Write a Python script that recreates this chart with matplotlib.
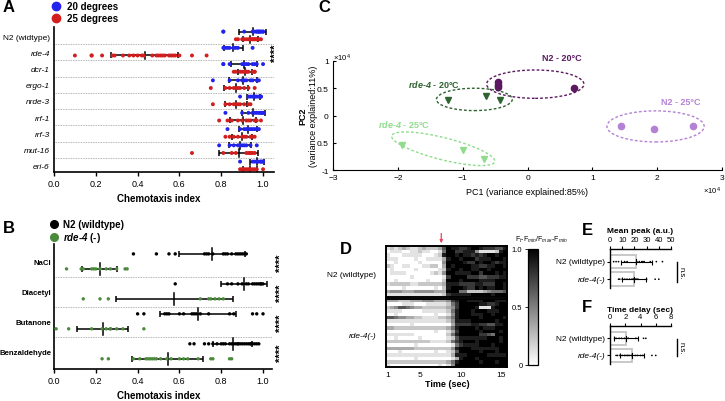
import numpy as np
import matplotlib
matplotlib.use('Agg')
import matplotlib.pyplot as plt
from matplotlib.patches import Ellipse
from matplotlib.lines import Line2D

plt.rcParams['font.family'] = ['Liberation Sans', 'DejaVu Sans']
plt.rcParams['mathtext.fontset'] = 'custom'
plt.rcParams['mathtext.rm'] = 'Liberation Sans'
plt.rcParams['mathtext.it'] = 'Liberation Sans:italic'
plt.rcParams['mathtext.bf'] = 'Liberation Sans:bold'
plt.rcParams['mathtext.bfit'] = 'Liberation Sans:italic:bold'

W, H = 725, 402

# ---------------- Panel A data: chemotaxis index at 20 / 25 degrees
strains = ['N2 (widtype)', 'rde-4', 'dcr-1', 'ergo-1', 'nrde-3', 'rrf-1', 'rrf-3', 'mut-16', 'eri-6']
ci_20 = [
    [0.81, 0.81, 0.91, 0.95, 0.96, 0.97, 0.97, 0.98, 0.98, 0.98, 0.99, 0.99, 1.0, 1.0],
    [0.81, 0.82, 0.83, 0.84, 0.86, 0.87, 0.88, 0.95],
    [0.81, 0.81, 0.84, 0.90, 0.91, 0.92, 0.93, 0.95, 0.96, 0.97, 1.0],
    [0.76, 0.84, 0.88, 0.90, 0.91, 0.92, 0.94, 0.95, 0.97, 0.98],
    [0.89, 0.93, 0.94, 0.95, 0.96, 0.96, 0.97, 0.98, 0.99, 0.99],
    [0.82, 0.90, 0.93, 0.95, 0.96, 0.97, 0.98, 0.99, 0.99, 1.0, 1.0],
    [0.83, 0.89, 0.91, 0.92, 0.93, 0.94, 0.95, 0.96, 0.97, 0.98],
    [0.79, 0.84, 0.86, 0.88, 0.89, 0.90, 0.91, 0.92, 0.94, 0.97],
    [0.89, 0.95, 0.96, 0.97, 0.98, 0.99, 0.99, 1.0, 1.0],
]
ci_25 = [
    [0.87, 0.88, 0.90, 0.91, 0.92, 0.93, 0.94, 0.94, 0.95, 0.95, 0.96, 0.96, 0.97, 0.97, 0.98, 0.99],
    [0.10, 0.18, 0.18, 0.23, 0.28, 0.29, 0.33, 0.36, 0.38, 0.40, 0.42, 0.43, 0.47, 0.49, 0.50,
     0.51, 0.52, 0.53, 0.55, 0.56, 0.57, 0.58, 0.60, 0.66, 0.73],
    [0.86, 0.87, 0.89, 0.90, 0.91, 0.92, 0.92, 0.93, 0.95, 0.96, 0.96],
    [0.75, 0.82, 0.84, 0.86, 0.87, 0.88, 0.89, 0.91, 0.93, 0.96],
    [0.76, 0.82, 0.84, 0.86, 0.87, 0.88, 0.89, 0.91, 0.93, 0.94],
    [0.79, 0.83, 0.85, 0.88, 0.90, 0.92, 0.93, 0.94, 0.96, 0.97, 0.99],
    [0.82, 0.84, 0.86, 0.88, 0.90, 0.91, 0.92, 0.94, 0.95, 0.96],
    [0.66, 0.81, 0.85, 0.87, 0.92, 0.93, 0.94, 0.94, 0.95, 0.96],
    [0.89, 0.90, 0.91, 0.92, 0.93, 0.94, 0.95, 0.96, 0.97, 1.0],
]

# ---------------- Panel B data: odorants
odorants = ['NaCl', 'Diacetyl', 'Butanone', 'Benzaldehyde']
ci_n2 = [
    [0.38, 0.49, 0.55, 0.58, 0.72, 0.73, 0.74, 0.76, 0.81, 0.82, 0.83, 0.85, 0.87, 0.88, 0.89, 0.90, 0.91, 0.92],
    [0.58, 0.83, 0.85, 0.88, 0.90, 0.92, 0.93, 0.95, 0.96, 0.97, 0.98, 0.99, 0.99, 1.0],
    [0.40, 0.43, 0.53, 0.54, 0.55, 0.60, 0.62, 0.66, 0.67, 0.68, 0.70, 0.74, 0.84, 0.86, 0.95, 0.97, 1.0],
    [0.65, 0.67, 0.72, 0.74, 0.76, 0.78, 0.80, 0.81, 0.82, 0.84, 0.85, 0.86, 0.87, 0.88, 0.88, 0.89,
     0.90, 0.91, 0.92, 0.93, 0.94, 0.94, 0.95, 0.96, 0.97, 0.98],
]
ci_rde4 = [
    [0.06, 0.13, 0.14, 0.18, 0.19, 0.20, 0.22, 0.22, 0.25, 0.27, 0.30, 0.34, 0.35],
    [0.14, 0.22, 0.26, 0.70, 0.74, 0.75, 0.77, 0.79, 0.81],
    [0.01, 0.07, 0.18, 0.23, 0.25, 0.27, 0.27, 0.30, 0.33, 0.43],
    [0.23, 0.26, 0.38, 0.41, 0.44, 0.45, 0.46, 0.47, 0.48, 0.49, 0.51, 0.54, 0.56, 0.60, 0.62,
     0.64, 0.69, 0.75, 0.76, 0.84, 0.85],
]

# ---------------- Panel C data: PCA (units of 1e4)
pca_groups = ['N2 - 20°C', r'$\mathbfit{rde}$-$\mathbfit{4}$ - 20°C', r'$\mathbfit{rde}$-$\mathbfit{4}$ - 25°C', 'N2 - 25°C']
pca_x = [[-0.46, -0.46, -0.46, 0.72], [-1.22, -0.64, -0.42], [-1.93, -0.99, -0.67], [1.44, 1.95, 2.55]]
pca_y = [[0.61, 0.56, 0.52, 0.51], [0.29, 0.35, 0.29], [-0.54, -0.63, -0.79], [-0.19, -0.25, -0.19]]
pca_colors = ['#5b1860', '#2f6330', '#8fdc8c', '#b482d4']
pca_markers = ['o', 'v', 'v', 'o']
# ellipse centre x, centre y, width, height, angle
pca_ellipses = [(0.12, 0.575, 1.50, 0.52, 0), (-0.82, 0.295, 1.17, 0.41, 0),
                (-1.30, -0.61, 1.66, 0.40, -17), (1.975, -0.20, 1.50, 0.57, 0)]
pca_label_pos = [(0.53, 1.07), (-1.44, 0.59), (-1.91, -0.14), (2.36, 0.26)]

# ---------------- Panel D data: calcium imaging heat maps (digit = level / 9), times 1 .. 15.5 s
heat_n2 = [
    "12123 21123 22236 98877 89987 77668",
    "01110 01121 10015 99778 88411 11289",
    "10001 11110 00128 99898 87878 99899",
    "11100 00100 11113 89989 99788 89998",
    "00100 00010 00004 99998 77989 98788",
    "21001 10001 12203 98999 98877 88998",
    "01000 00100 00012 89989 98899 89999",
    "01111 00000 01214 99888 89979 99898",
    "00000 01000 00001 79999 77766 77788",
    "00100 00000 10002 99989 99988 88999",
    "12222 21122 22223 88877 77887 77998",
    "00001 00000 00102 89998 77989 88998",
    "34443 33444 44333 99955 22223 45556",
    "11111 11111 11112 78888 89999 98999",
]
heat_rde4 = [
    "33322 23334 44333 47899 88889 99888",
    "00001 11000 11111 25799 99988 77899",
    "23466 54332 22222 34799 99811 18999",
    "11110 00001 11111 25899 98999 88899",
    "00100 00000 00100 14899 98889 98999",
    "66544 33221 11122 35899 99989 99998",
    "11111 11111 11111 24888 89999 99899",
    "00000 01000 00000 03777 78877 66889",
    "33222 22222 22222 35899 99898 88999",
    "00000 00000 00100 13799 99989 99989",
    "11111 11000 00000 25899 99977 65999",
    "00100 00010 00000 12688 88888 99989",
    "22222 22222 21111 25789 99899 99989",
    "00000 00100 00000 01578 88899 98999",
    "33333 33222 22222 24899 98888 88899",
    "00010 00000 00100 12699 99989 99899",
    "11111 11111 11111 13888 99999 88888",
    "00000 00100 00000 01389 99899 99999",
    "22222 22222 22222 35899 99989 99899",
    "10000 00000 00010 14999 99999 99999",
]
time_ticks = [1, 5, 10, 15]
stim_time = 7.6

# ---------------- Panels E / F data
groups_ef = ['N2 (wildtype)', 'rde-4(-)']
peak_n2 = [3, 5, 7, 12, 14, 22, 24, 26, 27, 28, 33, 38, 43]
peak_rde4 = [7, 8, 10, 12, 14, 16, 18, 19, 20, 21, 22, 23, 30, 37, 40]
delay_n2 = [0.0, 0.6, 0.8, 1.2, 1.5, 1.9, 2.2, 2.4, 3.4, 4.4, 4.7]
delay_rde4 = [0.8, 1.0, 1.3, 1.6, 1.9, 2.1, 2.3, 2.5, 2.8, 3.3, 3.6, 4.0, 4.3, 5.5, 6.0]


def rect(x0, y0, x1, y1):
    return [x0 / W, 1 - y1 / H, (x1 - x0) / W, (y1 - y0) / H]


def fx(x):
    return x / W


def fy(y):
    return 1 - y / H


def dot_row(ax, vals, y, color, s, cap, tick):
    ax.scatter(vals, [y] * len(vals), s=s, color=color, edgecolors='none', zorder=3)
    m, sd = np.mean(vals), np.std(vals, ddof=1)
    ax.errorbar(m, y, xerr=sd, fmt='none', ecolor='k', elinewidth=1.1, capsize=cap, capthick=1.1, zorder=2)
    ax.plot([m, m], [y - tick, y + tick], color='k', lw=1.1, zorder=2)


fig = plt.figure(figsize=(W / 100, H / 100), dpi=100)

# ================= Panel A
axA = fig.add_axes(rect(54, 28, 273.5, 173))
for i in range(len(strains)):
    dot_row(axA, ci_20[i], i - 0.27, '#2323f0', 8, 2.2, 0.22)
    dot_row(axA, ci_25[i], i + 0.2, '#d21e1e', 8, 2.2, 0.22)
for i in range(len(strains) - 1):
    axA.axhline(i + 0.5, color='#9a9a9a', lw=0.6, ls=(0, (1, 1)), zorder=1)
axA.set_xlim(0, 1.05)
axA.set_ylim(8.37, -0.554)
axA.set_xticks([0, 0.2, 0.4, 0.6, 0.8, 1.0])
axA.set_xticklabels(['0.0', '0.2', '0.4', '0.6', '0.8', '1.0'])
axA.set_yticks(range(len(strains)))
axA.set_yticklabels(strains)
for i, lab in enumerate(axA.get_yticklabels()):
    lab.set_fontsize(6)
    if i > 0:
        lab.set_fontstyle('italic')
axA.tick_params(axis='y', length=0, pad=3)
axA.tick_params(axis='x', labelsize=6.5, length=3, width=1, pad=2)
for sp in ['top', 'right']:
    axA.spines[sp].set_visible(False)
for sp in ['left', 'bottom']:
    axA.spines[sp].set_linewidth(1.2)
fig.text(fx(159), fy(199), 'Chemotaxis index', fontsize=7, weight='bold', ha='center', va='center')
fig.text(fx(276), fy(53), '****', fontsize=8, weight='bold', rotation=90, ha='center', va='center')
fig.add_artist(Line2D([fx(56)], [fy(7)], marker='o', ms=6, color='#2323f0', transform=fig.transFigure))
fig.add_artist(Line2D([fx(56)], [fy(19)], marker='o', ms=6, color='#d21e1e', transform=fig.transFigure))
fig.text(fx(67), fy(7), '20 degrees', fontsize=7, weight='bold', va='center')
fig.text(fx(67), fy(19), '25 degrees', fontsize=7, weight='bold', va='center')
fig.text(fx(3), fy(8), 'A', fontsize=12, weight='bold', va='center')

# ================= Panel B
axB = fig.add_axes(rect(54, 245, 272, 370))
for i in range(len(odorants)):
    dot_row(axB, ci_n2[i], i - 0.27, 'black', 6, 2.5, 0.2)
    dot_row(axB, ci_rde4[i], i + 0.23, '#4a8a3a', 6, 2.5, 0.2)
for i in range(len(odorants) - 1):
    axB.axhline(i + 0.5, color='#9a9a9a', lw=0.6, ls=(0, (1, 1)), zorder=1)
axB.set_xlim(0, 1.043)
axB.set_ylim(3.57, -0.6)
axB.set_xticks([0, 0.2, 0.4, 0.6, 0.8, 1.0])
axB.set_xticklabels(['0.0', '0.2', '0.4', '0.6', '0.8', '1.0'])
axB.set_yticks(range(len(odorants)))
axB.set_yticklabels(odorants, fontsize=5.6, weight='bold')
axB.tick_params(axis='y', length=0, pad=2)
axB.tick_params(axis='x', labelsize=6.5, length=3, width=1, pad=2)
for sp in ['top', 'right']:
    axB.spines[sp].set_visible(False)
for sp in ['left', 'bottom']:
    axB.spines[sp].set_linewidth(1.2)
for i in range(len(odorants)):
    axB.text(1.085, i, '****', fontsize=8, weight='bold', rotation=90, ha='center', va='center',
             clip_on=False)
fig.text(fx(159), fy(396), 'Chemotaxis index', fontsize=7, weight='bold', ha='center', va='center')
fig.add_artist(Line2D([fx(54)], [fy(225)], marker='o', ms=5.5, color='black', transform=fig.transFigure))
fig.add_artist(Line2D([fx(54)], [fy(238)], marker='o', ms=5.5, color='#4a8a3a', transform=fig.transFigure))
fig.text(fx(63), fy(225), 'N2 (wildtype)', fontsize=7, weight='bold', va='center')
fig.text(fx(63), fy(238), r'$\mathbfit{rde}$-$\mathbfit{4}$ (-)', fontsize=7, weight='bold', va='center')
fig.text(fx(3), fy(229), 'B', fontsize=12, weight='bold', va='center')

# ================= Panel C
axC = fig.add_axes(rect(333, 62, 722, 171))
for i in range(len(pca_groups)):
    axC.plot(pca_x[i], pca_y[i], ls='none', marker=pca_markers[i], ms=4.5, color=pca_colors[i])
    cx, cy, ew, eh, ang = pca_ellipses[i]
    axC.add_patch(Ellipse((cx, cy), ew, eh, angle=ang, fill=False, ec=pca_colors[i], lw=1,
                          ls=(0, (2, 1.5))))
    lx, ly = pca_label_pos[i]
    axC.text(lx, ly, pca_groups[i], color=pca_colors[i], fontsize=6.5, weight='bold',
             ha='center', va='center', clip_on=False)
axC.set_xlim(-3, 3)
axC.set_ylim(-1, 1)
axC.set_xticks([-3, -2, -1, 0, 1, 2, 3])
axC.set_yticks([-1, -0.5, 0, 0.5, 1])
axC.set_yticklabels(['-1', '0.5', '0', '0.5', '1'])
axC.tick_params(direction='in', length=2.5, width=0.8, labelsize=6, pad=3)
for sp in ['top', 'right']:
    axC.spines[sp].set_visible(False)
for sp in ['left', 'bottom']:
    axC.spines[sp].set_linewidth(0.8)
fig.text(fx(333), fy(58), r'$\times10^4$', fontsize=5.5, va='center')
fig.text(fx(703), fy(191), r'$\times10^4$', fontsize=5.5, va='center')
fig.text(fx(527), fy(193), 'PC1 (variance explained:85%)', fontsize=6.5, ha='center', va='center')
fig.text(fx(303), fy(116), 'PC2', fontsize=6.5, weight='bold', rotation=90, ha='center', va='center')
fig.text(fx(314), fy(116), '(variance explained:11%)', fontsize=6.5, rotation=90, ha='center', va='center')
fig.text(fx(318), fy(8), 'C', fontsize=12, weight='bold', va='center')


# ================= Panel D
def to_matrix(rows):
    return np.array([[int(c) for c in r.replace(' ', '')] for r in rows]) / 9.0


axD1 = fig.add_axes(rect(386, 247, 507, 298))
axD2 = fig.add_axes(rect(386, 300, 507, 368))
im = None
for ax, rows in [(axD1, heat_n2), (axD2, heat_rde4)]:
    m = to_matrix(rows)
    im = ax.imshow(m, cmap='gray_r', vmin=0, vmax=1, aspect='auto', interpolation='nearest',
                   extent=(0.75, 15.75, m.shape[0], 0))
    ax.set_yticks([])
    for sp in ax.spines.values():
        sp.set_linewidth(1.4)
axD1.set_xticks([])
axD2.set_xticks(time_ticks)
axD2.tick_params(axis='x', length=0, labelsize=6, pad=3)
axD1.annotate('', xy=(stim_time, 1.0), xytext=(stim_time, 1.3), xycoords=('data', 'axes fraction'),
              arrowprops=dict(arrowstyle='-|>', color='#e8405a', lw=0.9, mutation_scale=4))
cax = fig.add_axes(rect(528, 250, 538, 366))
cb = fig.colorbar(im, cax=cax, ticks=[0, 0.5, 1.0])
cb.outline.set_linewidth(0.9)
cax.yaxis.set_ticks_position('left')
cax.set_yticklabels(['0', '0.5', '1.0'])
cax.tick_params(length=2, width=0.6, labelsize=5.5, pad=2)
fig.text(fx(541), fy(240), r'F$_t$-F$_{min}$/F$_{max}$-F$_{min}$', fontsize=5, ha='center', va='center')
fig.text(fx(447), fy(385), 'Time (sec)', fontsize=6.5, weight='bold', ha='center', va='center')
fig.text(fx(376), fy(276), 'N2 (wildtype)', fontsize=6, ha='right', va='center')
fig.text(fx(376), fy(337), 'rde-4(-)', fontsize=6, style='italic', ha='right', va='center')
fig.text(fx(340), fy(250), 'D', fontsize=12, weight='bold', va='center')


# ================= Panels E & F
def bar_panel(box, data, xmax, xticks, title, title_y, letter, letter_y, ns_y):
    ax = fig.add_axes(rect(*box))
    for i, vals in enumerate(data):
        m, sd = np.mean(vals), np.std(vals, ddof=1)
        ax.barh(i, m, height=0.77, color='white', edgecolor='#c4c4c4', lw=1.3, zorder=1)
        ax.errorbar(m, i, xerr=sd, fmt='none', ecolor='k', elinewidth=0.8, capsize=1.8, capthick=0.8, zorder=2)
        ax.plot([m, m], [i - 0.15, i + 0.15], color='k', lw=0.8, zorder=2)
        ax.scatter(vals, [i] * len(vals), s=1.5, color='k', edgecolors='none', zorder=3)
    ax.set_xlim(0, xmax)
    ax.set_ylim(1.5, -0.72)
    ax.set_xticks(xticks)
    ax.xaxis.set_ticks_position('top')
    ax.tick_params(axis='x', labelsize=5.5, length=2.5, width=0.8, pad=1.5)
    ax.set_yticks([0, 1])
    ax.set_yticklabels(['', ''])
    ax.tick_params(axis='y', length=2, width=0.8)
    for sp in ['bottom', 'right']:
        ax.spines[sp].set_visible(False)
    for sp in ['top', 'left']:
        ax.spines[sp].set_linewidth(1)
    y0 = box[1]
    ax_h = box[3] - box[1]
    for i, name in enumerate(groups_ef):
        yy = y0 + (i + 0.72) / 2.22 * ax_h
        fig.text(fx(605), fy(yy), name, fontsize=6, style='italic' if i == 1 else 'normal',
                 ha='right', va='center')
    fig.text(fx(640), fy(title_y), title, fontsize=6, weight='bold', ha='center', va='center')
    fig.text(fx(582), fy(letter_y), letter, fontsize=12, weight='bold', va='center')
    fig.add_artist(Line2D([fx(676.5), fx(676.5)], [fy(ns_y[0]), fy(ns_y[1])], color='k', lw=1,
                          transform=fig.transFigure))
    fig.text(fx(681), fy((ns_y[0] + ns_y[1]) / 2), 'n.s.', fontsize=5.5, rotation=-90,
             ha='center', va='center')


bar_panel((610, 250, 671, 289), [peak_n2, peak_rde4], 50, [0, 10, 20, 30, 40, 50],
          'Mean peak (a.u.)', 231.5, 'E', 231, (262.5, 283))
bar_panel((610, 327, 671, 365), [delay_n2, delay_rde4], 8, [0, 2, 4, 6, 8],
          'Time delay (sec)', 310.5, 'F', 307, (340, 357))

fig.savefig('out.png', dpi=100)
